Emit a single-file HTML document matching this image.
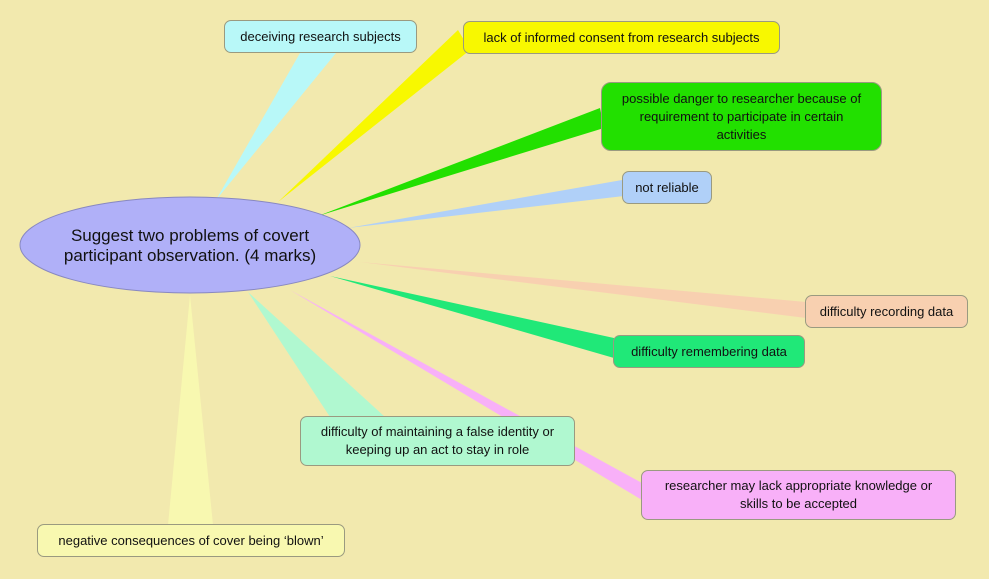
<!DOCTYPE html>
<html><head><meta charset="utf-8"><style>
body{margin:0;width:989px;height:579px;background:#f2e9ae;overflow:hidden;font-family:"Liberation Sans",sans-serif;}
.n{position:absolute;box-sizing:border-box;border:1px solid #9a9a80;border-radius:7px;font-size:13px;color:#111;display:flex;align-items:center;justify-content:center;text-align:center;line-height:18px;padding:0 8px;}
</style></head><body>
<svg width="989" height="579" style="position:absolute;left:0;top:0">
<polygon points="216,200 300,53 336,53" fill="#b8f8f8"/>
<polygon points="278,202 458,30 470,50" fill="#f8f800"/>
<polygon points="318,216 600,108 604,128" fill="#22e000"/>
<polygon points="348,228 622,180 624,196" fill="#b0d0f8"/>
<polygon points="360,262 806,302 806,318" fill="#f8d0b0"/>
<polygon points="330,276 614,338 614,358" fill="#20e878"/>
<polygon points="248,292 330,417 385,417" fill="#b0f8d0"/>
<polygon points="290,290 642,483 642,500" fill="#f8b0f8"/>
<polygon points="190,295 168,525 213,525" fill="#f8f8b0"/>
<ellipse cx="190" cy="245" rx="170" ry="48" fill="#b0b0f8" stroke="#8888c0" stroke-width="1"/>
</svg>
<div style="position:absolute;left:20px;top:226px;width:340px;text-align:center;font-size:17px;line-height:20px;color:#111">Suggest two problems of covert<br>participant observation. (4 marks)</div>
<div class="n" style="left:224px;top:20px;width:193px;height:33px;background:#b8f8f8">deceiving research subjects</div>
<div class="n" style="left:463px;top:21px;width:317px;height:33px;background:#f8f800">lack of informed consent from research subjects</div>
<div class="n" style="left:601px;top:82px;width:281px;height:69px;background:#22e000;border-radius:10px;padding:0 14px">possible danger to researcher because of requirement to participate in certain activities</div>
<div class="n" style="left:622px;top:171px;width:90px;height:33px;background:#b0d0f8">not reliable</div>
<div class="n" style="left:805px;top:295px;width:163px;height:33px;background:#f8d0b0">difficulty recording data</div>
<div class="n" style="left:613px;top:335px;width:192px;height:33px;background:#20e878">difficulty remembering data</div>
<div class="n" style="left:300px;top:416px;width:275px;height:50px;background:#b0f8d0">difficulty of maintaining a false identity or keeping up an act to stay in role</div>
<div class="n" style="left:641px;top:470px;width:315px;height:50px;background:#f8b0f8">researcher may lack appropriate knowledge or skills to be accepted</div>
<div class="n" style="left:37px;top:524px;width:308px;height:33px;background:#f8f8b0">negative consequences of cover being ‘blown’</div>
</body></html>
